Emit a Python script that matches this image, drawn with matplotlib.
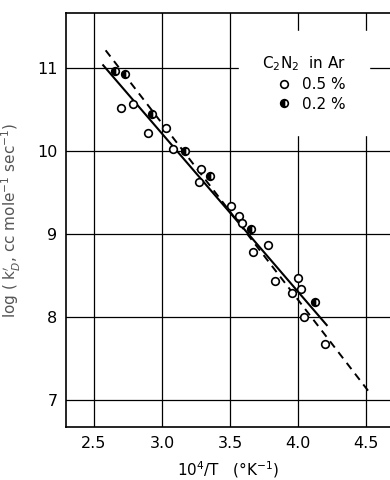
import matplotlib
matplotlib.use('Agg')
import matplotlib.pyplot as plt

# ----------------------------
# Data
# ----------------------------
# 0.5 % C2N2 in Ar (open circles)
x_05 = [2.699, 2.784, 2.90, 3.029, 3.083, 3.287, 3.274, 3.51, 3.566, 3.59,
        3.671, 3.782, 3.831, 3.998, 4.022, 3.958, 4.044, 4.199]
y_05 = [10.51, 10.56, 10.22, 10.27, 10.02, 9.78, 9.62, 9.34, 9.21, 9.13,
        8.78, 8.86, 8.43, 8.47, 8.33, 8.29, 8.00, 7.67]

# 0.2 % C2N2 in Ar (half-filled circles)
x_02 = [2.654, 2.728, 2.93, 3.17, 3.353, 3.654, 4.125]
y_02 = [10.96, 10.92, 10.44, 10.00, 9.70, 9.06, 8.18]

# fitted lines (end points)
x_solid = [2.568, 4.211]
y_solid = [11.03, 7.90]
x_dash = [2.586, 4.529]
y_dash = [11.21, 7.08]

xticks = [2.5, 3.0, 3.5, 4.0, 4.5]
xticklabels = ['2.5', '3.0', '3.5', '4.0', '4.5']
yticks = [7, 8, 9, 10, 11]

# ----------------------------
# Figure
# ----------------------------
fig = plt.figure(figsize=(3.9, 4.8), dpi=100)
ax = fig.add_axes([0.169, 0.110, 0.831, 0.863])

ax.set_xlim(2.294, 4.676)
ax.set_ylim(6.67, 11.66)
ax.set_xticks(xticks)
ax.set_xticklabels(xticklabels)
ax.set_yticks(yticks)
ax.tick_params(length=0, labelsize=11.5, pad=6)
ax.grid(True, color='black', linewidth=0.9)
ax.set_axisbelow(True)
ax.spines['right'].set_visible(False)
for s in ['left', 'top', 'bottom']:
    ax.spines[s].set_linewidth(1.2)

ax.plot(x_solid, y_solid, color='black', linewidth=1.5, zorder=3)
ax.plot(x_dash, y_dash, color='black', linewidth=1.4, linestyle=(0, (4, 3)), zorder=3)

ax.plot(x_05, y_05, linestyle='none', marker='o', markersize=5.5,
        markerfacecolor='white', markeredgecolor='black', markeredgewidth=1.2,
        zorder=4, label='0.5 %')
ax.plot(x_02, y_02, linestyle='none', marker='o', markersize=5.5,
        fillstyle='left', markerfacecolor='black', markerfacecoloralt='white',
        markeredgecolor='black', markeredgewidth=1.2, zorder=5, label='0.2 %')

leg = ax.legend(title='C$_2$N$_2$  in Ar', loc='upper left',
                bbox_to_anchor=(0.51, 0.975), frameon=True, fontsize=11,
                title_fontsize=11, handletextpad=0.6, borderpad=1.5,
                labelspacing=0.3, handlelength=1.2, fancybox=False)
leg.get_frame().set_facecolor('white')
leg.get_frame().set_edgecolor('white')
leg.get_frame().set_alpha(1.0)
leg._legend_box.align = 'right'

ax.set_xlabel('10$^4$/T   (°K$^{-1}$)', fontsize=11, labelpad=6)
ax.set_ylabel("log ( k$_D^{\\prime}$, cc mole$^{-1}$ sec$^{-1}$)", fontsize=11,
              color='#555555', labelpad=10)

fig.savefig('out.png', dpi=100)
